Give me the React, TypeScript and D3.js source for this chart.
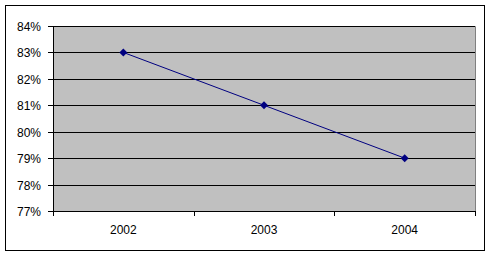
import React from "react";
import * as d3 from "d3";

const categories = ["2002", "2003", "2004"];
const values = [0.83, 0.81, 0.79];
const yTicks = [0.77, 0.78, 0.79, 0.8, 0.81, 0.82, 0.83, 0.84];

export default function App() {
  const W = 491, H = 257;
  const left = 53, right = 475, top = 26, bottom = 211;
  const x = d3.scaleBand<string>().domain(categories).range([left, right]);
  const y = d3.scaleLinear().domain([0.77, 0.84]).range([bottom, top]);
  const fmt = d3.format(".0%");
  const line = d3
    .line<number>()
    .x((_, i) => (x(categories[i]) as number) + x.bandwidth() / 2)
    .y((d) => y(d));
  const font = "Arial, 'Liberation Sans', sans-serif";
  const bounds = [...categories.map((c) => x(c) as number), right];
  return (
    <svg width={W} height={H} style={{ position: "absolute", left: 0, top: 0 }}>
      <rect x={0} y={0} width={W} height={H} fill="#fff" />
      <rect x={5.5} y={5.5} width={479} height={245} fill="#fff" stroke="#000" />
      <rect x={left} y={top} width={right - left} height={bottom - top} fill="#C0C0C0" />
      <path
        d={`M${left},${top + 0.5}H${right + 0.5}V${bottom}`}
        fill="none"
        stroke="#808080"
      />
      {yTicks.map((t) => (
        <g key={t}>
          <line
            x1={left - 5}
            x2={right}
            y1={Math.round(y(t)) + 0.5}
            y2={Math.round(y(t)) + 0.5}
            stroke="#000"
          />
          <text
            x={41}
            y={Math.round(y(t)) + 4.5}
            textAnchor="end"
            fontFamily={font}
            fontSize={12}
            fill="#000"
          >
            {fmt(t)}
          </text>
        </g>
      ))}
      <line x1={left + 0.5} x2={left + 0.5} y1={top} y2={bottom + 1} stroke="#000" />
      {bounds.map((b, i) => (
        <line
          key={i}
          x1={Math.round(b) + 0.5}
          x2={Math.round(b) + 0.5}
          y1={bottom}
          y2={bottom + 5}
          stroke="#000"
        />
      ))}
      {categories.map((c) => (
        <text
          key={c}
          x={(x(c) as number) + x.bandwidth() / 2}
          y={234}
          textAnchor="middle"
          fontFamily={font}
          fontSize={12}
          fill="#000"
        >
          {c}
        </text>
      ))}
      <path d={line(values) || ""} fill="none" stroke="#000080" strokeWidth={1} />
      {values.map((v, i) => {
        const cx = (x(categories[i]) as number) + x.bandwidth() / 2;
        const cy = y(v);
        return (
          <path
            key={i}
            d={`M${cx},${cy - 4}L${cx + 4},${cy}L${cx},${cy + 4}L${cx - 4},${cy}Z`}
            fill="#000080"
          />
        );
      })}
    </svg>
  );
}
